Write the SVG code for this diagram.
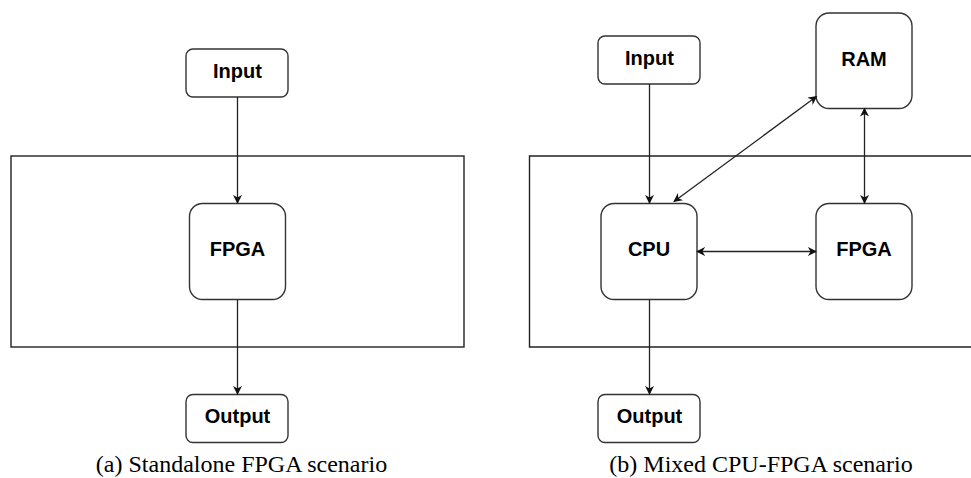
<svg xmlns="http://www.w3.org/2000/svg" width="971" height="478" viewBox="0 0 971 478">
  <defs>
    <style>
      .frame { fill: none; stroke: #222; stroke-width: 1.4; }
      .box { fill: #fff; stroke: #333; stroke-width: 1.4; }
      .label { font-family: "Liberation Sans", Arial, sans-serif; font-weight: bold; font-size: 20px; fill: #000; text-anchor: middle; }
      .caption { font-family: "Liberation Serif", "Times New Roman", serif; font-size: 24px; fill: #000; text-anchor: middle; }
      .edge { fill: none; stroke: #222; stroke-width: 1.3; }
    </style>
    <marker id="arrow" viewBox="0 0 10 10" refX="9" refY="5" markerWidth="9" markerHeight="9" markerUnits="userSpaceOnUse" orient="auto-start-reverse">
      <path d="M0,0 L10,5 L0,10 L3,5 z" fill="#111"/>
    </marker>
  </defs>

  <!-- (a) standalone FPGA -->
  <rect class="frame" x="11" y="156" width="453" height="191"/>
  <g id="a-input">
    <rect class="box" x="186" y="49" width="102" height="48" rx="7"/>
    <text class="label" x="237.5" y="78">Input</text>
  </g>
  <g id="a-fpga">
    <rect class="box" x="189.5" y="203.5" width="96" height="96" rx="13"/>
    <text class="label" x="237.5" y="256">FPGA</text>
  </g>
  <g id="a-output">
    <rect class="box" x="186" y="394.5" width="102" height="48" rx="7"/>
    <text class="label" x="237.5" y="423">Output</text>
  </g>
  <text class="caption" x="241.5" y="472">(a) Standalone FPGA scenario</text>

  <!-- (b) mixed CPU-FPGA -->
  <path class="frame" d="M975,156 H529.5 V347 H975"/>
  <g id="b-input">
    <rect class="box" x="598" y="36" width="102" height="48" rx="7"/>
    <text class="label" x="649.5" y="65">Input</text>
  </g>
  <g id="b-ram">
    <rect class="box" x="816" y="13" width="96" height="95.5" rx="13"/>
    <text class="label" x="864" y="66">RAM</text>
  </g>
  <g id="b-cpu">
    <rect class="box" x="601" y="203.5" width="96" height="96" rx="13"/>
    <text class="label" x="649" y="256">CPU</text>
  </g>
  <g id="b-fpga">
    <rect class="box" x="816" y="203.5" width="96" height="96" rx="13"/>
    <text class="label" x="864" y="255.5">FPGA</text>
  </g>
  <g id="b-output">
    <rect class="box" x="598" y="394.5" width="102" height="48" rx="7"/>
    <text class="label" x="649.5" y="423">Output</text>
  </g>
  <text class="caption" x="761" y="472">(b) Mixed CPU-FPGA scenario</text>

  <!-- connectors -->
  <g id="connectors">
    <line class="edge" x1="237.5" y1="97" x2="237.5" y2="203" marker-end="url(#arrow)"/>
    <line class="edge" x1="237.5" y1="299.5" x2="237.5" y2="394" marker-end="url(#arrow)"/>
    <line class="edge" x1="649.5" y1="84" x2="649.5" y2="203" marker-end="url(#arrow)"/>
    <line class="edge" x1="649.5" y1="299.5" x2="649.5" y2="394" marker-end="url(#arrow)"/>
    <line class="edge" x1="816.5" y1="96.5" x2="674" y2="201.5" marker-start="url(#arrow)" marker-end="url(#arrow)"/>
    <line class="edge" x1="864.5" y1="108.5" x2="864.5" y2="203" marker-start="url(#arrow)" marker-end="url(#arrow)"/>
    <line class="edge" x1="697" y1="251.5" x2="816" y2="251.5" marker-start="url(#arrow)" marker-end="url(#arrow)"/>
  </g>
</svg>
